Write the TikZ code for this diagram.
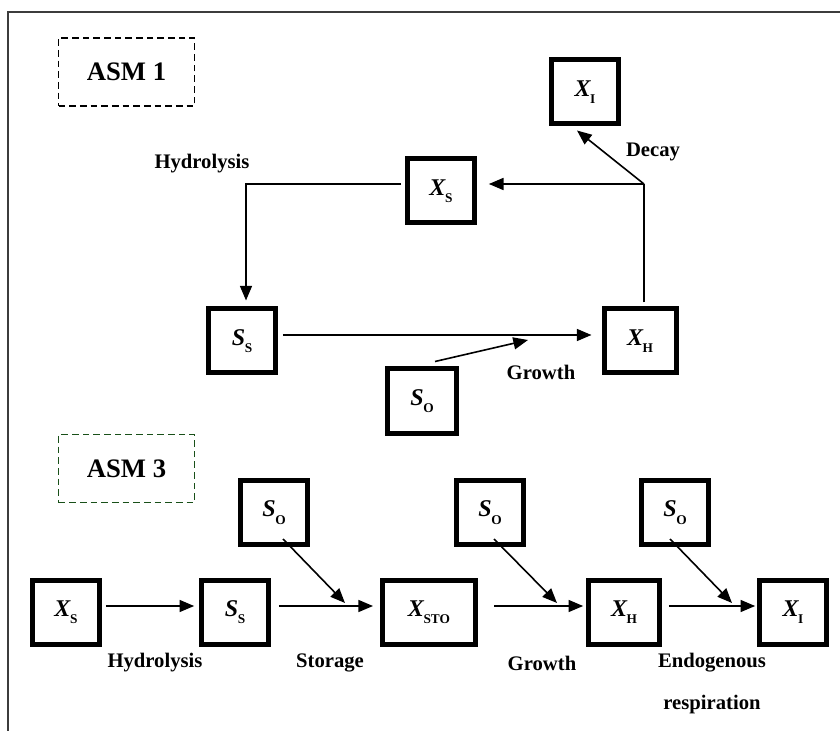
\documentclass[tikz,border=0pt]{standalone}
\usepackage{fontspec}
\setmainfont{Liberation Serif}
\usetikzlibrary{arrows.meta,calc}
\definecolor{asmgreen}{RGB}{25,80,25}
\definecolor{framegray}{RGB}{60,60,60}
\newcommand{\vrb}[2]{{\fontsize{18}{18}\selectfont\bfseries\itshape #1}\kern-0.3pt\raisebox{-5.5pt}{\fontsize{10}{10}\selectfont\bfseries #2}}
\tikzset{
  box/.style={draw, line width=3.75pt, minimum width=50pt, minimum height=48pt, inner sep=0pt},
  arr/.style={line width=1.2pt, -{Triangle[length=11pt,width=9pt]}},
  plain/.style={line width=1.2pt},
  lbl/.style={font=\fontsize{15.5}{18}\selectfont\bfseries, inner sep=0pt},
  asm/.style={line width=1.4pt, dash pattern=on 5pt off 3pt, minimum width=102pt, minimum height=51pt, font=\fontsize{20}{24}\selectfont\bfseries},
  frame/.style={line width=1.6pt, draw=framegray}
}
\begin{document}
\begin{tikzpicture}[x=0.75pt,y=-0.75pt]
\useasboundingbox (0,0) rectangle (840,731);
\draw[frame] (8,731) -- (8,12) -- (840,12);

% labels ASM
\node[asm, draw=black] (asm1) at (126.5,72) {ASM 1};
\node[asm, draw=asmgreen] (asm3) at (126.5,468.5) {ASM 3};

% ASM1 boxes
\node[box] (XI) at (585,92) {\vrb{X}{I}};
\node[box] (XS1) at (441,191) {\vrb{X}{S}};
\node[box] (SS1) at (242,341) {\vrb{S}{S}};
\node[box, minimum width=54pt] (XH1) at (640,341) {\vrb{X}{H}};
\node[box, minimum width=52pt] (SO1) at (422,401) {\vrb{S}{O}};

\coordinate (J) at (644,184);
\coordinate (G) at (528,340);

\draw[arr] ([xshift=-3pt,yshift=5.25pt]XS1.west) -| ([xshift=3pt,yshift=4.5pt]SS1.north);
\draw[plain] ([xshift=3pt,yshift=3pt]XH1.north) -- (J);
\draw[arr] (J) -- ([xshift=9pt,yshift=5.25pt]XS1.east);
\draw[arr] (J) -- ([xshift=-6pt,yshift=-3pt]XI.south);
\draw[arr] ([xshift=3.75pt,yshift=4.5pt]SS1.east) -- ([xshift=-7.5pt,yshift=4.5pt]XH1.west);
\draw[arr] ([xshift=9.75pt,yshift=3.75pt]SO1.north) -- (G);

\node[lbl] (hyd1) at (202,164) {Hydrolysis};
\node[lbl] (decay) at (653,152) {Decay};
\node[lbl] (grow1) at (541,372) {Growth};

% ASM3 boxes
\node[box] (XS2) at (66,612) {\vrb{X}{S}};
\node[box] (SS2) at (235,612) {\vrb{S}{S}};
\node[box] (SOa) at (274,512.5) {\vrb{S}{O}};
\node[box, minimum width=69.75pt] (XSTO) at (429,612) {\vrb{X}{STO}};
\node[box] (SOb) at (490,512.5) {\vrb{S}{O}};
\node[box, minimum width=53pt] (XH2) at (624,612) {\vrb{X}{H}};
\node[box] (SOc) at (675,512.5) {\vrb{S}{O}};
\node[box] (XI2) at (793,612) {\vrb{X}{I}};

\coordinate (m1) at (345,603);
\coordinate (m2) at (557,603);
\coordinate (m3) at (732,603);

\draw[arr] ([xshift=3pt,yshift=4.5pt]XS2.east) -- ([xshift=-3.75pt,yshift=4.5pt]SS2.west);
\draw[arr] ([xshift=6pt,yshift=4.5pt]SS2.east) -- ([xshift=-5.25pt,yshift=4.5pt]XSTO.west);
\draw[arr] ([xshift=12pt,yshift=4.5pt]XSTO.east) -- ([xshift=-2.25pt,yshift=4.5pt]XH2.west);
\draw[arr] ([xshift=5.25pt,yshift=4.5pt]XH2.east) -- ([xshift=-1.5pt,yshift=4.5pt]XI2.west);
\draw[arr] ([xshift=6.75pt,yshift=6pt]SOa.south) -- (m1);
\draw[arr] ([xshift=3pt,yshift=6pt]SOb.south) -- (m2);
\draw[arr] ([xshift=-3.75pt,yshift=6pt]SOc.south) -- (m3);

\node[lbl] (hyd2) at (155,663) {Hydrolysis};
\node[lbl] (stor) at (330,663) {Storage};
\node[lbl] (grow2) at (542,663) {Growth};
\node[lbl] (endo) at (712,663) {Endogenous};
\node[lbl] (resp) at (712,705) {respiration};
\end{tikzpicture}
\end{document}
